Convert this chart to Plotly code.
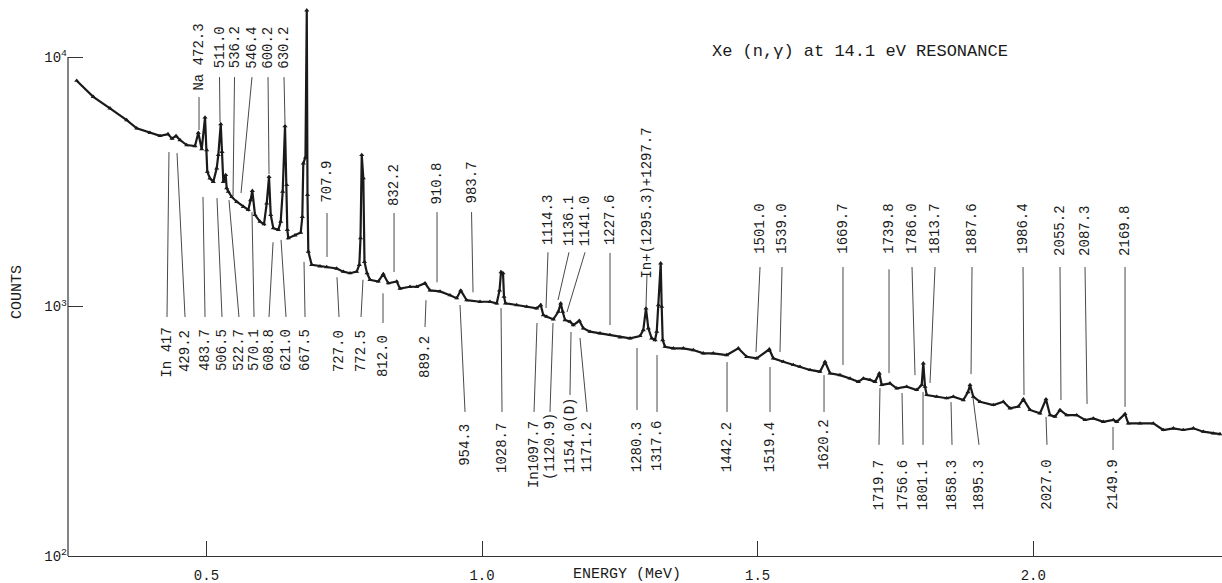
import math
import plotly.graph_objects as go

# ---------------- spectrum ----------------
energy_mev = [
    0.2646, 0.2947, 0.3250, 0.3553, 0.3735, 0.3976, 0.4157, 0.4302, 0.4375, 0.4448,
    0.4520, 0.4642, 0.4792, 0.4852, 0.4914, 0.4974, 0.5005, 0.5015, 0.5064, 0.5124,
    0.5186, 0.5215, 0.5259, 0.5282, 0.5306, 0.5349, 0.5367, 0.5396, 0.5458, 0.5549,
    0.5669, 0.5759, 0.5800, 0.5832, 0.5881, 0.5971, 0.6044, 0.6093, 0.6135, 0.6166,
    0.6213, 0.6304, 0.6347, 0.6383, 0.6425, 0.6456, 0.6467, 0.6485, 0.6606, 0.6710,
    0.6739, 0.6757, 0.6796, 0.6820, 0.6833, 0.6848, 0.6909, 0.7060, 0.7182, 0.7363,
    0.7483, 0.7604, 0.7726, 0.7773, 0.7795, 0.7817, 0.7846, 0.7867, 0.7913, 0.7967,
    0.8118, 0.8208, 0.8299, 0.8452, 0.8511, 0.8693, 0.8814, 0.8965, 0.9056, 0.9237,
    0.9418, 0.9540, 0.9613, 0.9721, 0.9963, 1.0144, 1.0266, 1.0317, 1.0344, 1.0380,
    1.0398, 1.0425, 1.0629, 1.0810, 1.0991, 1.1064, 1.1111, 1.1173, 1.1293, 1.1383,
    1.1427, 1.1463, 1.1505, 1.1595, 1.1655, 1.1764, 1.1837, 1.1958, 1.2140, 1.2321,
    1.2503, 1.2684, 1.2866, 1.2925, 1.2974, 1.3016, 1.3078, 1.3138, 1.3169, 1.3198,
    1.3241, 1.3259, 1.3277, 1.3319, 1.3470, 1.3651, 1.3833, 1.4014, 1.4195, 1.4439,
    1.4649, 1.4801, 1.4983, 1.5211, 1.5284, 1.5465, 1.5647, 1.5768, 1.5950, 1.6131,
    1.6222, 1.6313, 1.6494, 1.6675, 1.6826, 1.6917, 1.7038, 1.7129, 1.7207, 1.7250,
    1.7401, 1.7523, 1.7704, 1.7885, 1.7976, 1.8005, 1.8036, 1.8067, 1.8248, 1.8430,
    1.8550, 1.8731, 1.8816, 1.8853, 1.8912, 1.9034, 1.9275, 1.9457, 1.9578, 1.9729,
    1.9820, 1.9941, 2.0122, 2.0231, 2.0304, 2.0394, 2.0485, 2.0607, 2.0788, 2.0939,
    2.1089, 2.1271, 2.1452, 2.1514, 2.1664, 2.1724, 2.1936, 2.2178, 2.2359, 2.2541,
    2.2722, 2.2904, 2.3085, 2.3266, 2.3388,
]
counts = [
    8040, 6930, 6230, 5590, 5180, 4970, 4830, 4910, 4710, 4830,
    4650, 4440, 4400, 4970, 4270, 5730, 4240, 3470, 3260, 3160,
    3580, 4050, 5390, 4170, 3160, 3370, 2980, 2890, 2750, 2630,
    2510, 2440, 2670, 2910, 2330, 2190, 2140, 2590, 3310, 2330,
    2060, 2030, 2190, 2890, 5290, 3070, 2030, 1880, 1930, 1980,
    2290, 3750, 3960, 15400, 2800, 1660, 1470, 1450, 1440, 1420,
    1380, 1360, 1380, 1470, 1880, 4050, 3270, 1510, 1360, 1280,
    1260, 1350, 1240, 1260, 1180, 1200, 1200, 1240, 1160, 1150,
    1110, 1080, 1160, 1060, 1045, 1045, 1030, 1160, 1375, 1360,
    1095, 1030, 1014, 998, 983, 1014, 924, 910, 889, 953,
    1030, 953, 883, 869, 843, 877, 818, 793, 781, 769,
    753, 746, 762, 805, 983, 818, 746, 734, 793, 1014,
    1490, 998, 734, 690, 680, 680, 669, 649, 649, 639,
    680, 629, 620, 674, 620, 601, 583, 574, 557, 548,
    601, 540, 531, 515, 499, 515, 508, 499, 540, 485,
    492, 470, 477, 463, 485, 592, 477, 442, 435, 429,
    435, 422, 454, 485, 435, 415, 403, 415, 391, 397,
    425, 385, 373, 425, 367, 362, 385, 367, 367, 351,
    356, 345, 351, 345, 371, 340, 340, 340, 320, 325,
    320, 325, 315, 310, 308,
]

# ---------------- peak labels above the curve ----------------
up_text = ["Na 472.3", "511.0", "536.2", "546.4", "600.2", "630.2", "707.9", "832.2",
           "910.8", "983.7", "1114.3", "1136.1", "1141.0", "1227.6", "In+(1295.3)+1297.7",
           "1501.0", "1539.0", "1669.7", "1739.8", "1786.0", "1813.7", "1887.6", "1986.4",
           "2055.2", "2087.3", "2169.8"]
up_x = [0.4865, 0.5237, 0.5509, 0.5826, 0.6117, 0.6407, 0.7187, 0.8403,
        0.9183, 0.9809, 1.1196, 1.1577, 1.1868, 1.2321, 1.2992,
        1.5043, 1.5442, 1.6548, 1.7383, 1.7800, 1.8218, 1.8889, 1.9814,
        2.0485, 2.0939, 2.1665]
up_y = [9950, 10900, 10900, 10900, 10900, 10900, 3170, 3070,
        3110, 3130, 2220, 2200, 2200, 2220, 2610,
        2050, 2050, 2050, 2050, 2050, 2050, 2050, 2050,
        2010, 2010, 2010]
up_line_top = [6910, 8310, 8310, 8310, 8310, 8310, 2370, 2370,
               2390, 2390, 1650, 1650, 1650, 1640, 1340,
               1440, 1440, 1440, 1410, 1440, 1440, 1440, 1440,
               1440, 1440, 1440]
up_peak_x = [0.4865, 0.5246, 0.5482, 0.5627, 0.6135, 0.6425, 0.7187, 0.8403,
             0.9183, 0.9836, 1.1160, 1.1378, 1.1541, 1.2321, 1.2974,
             1.4970, 1.5405, 1.6548, 1.7383, 1.7855, 1.8127, 1.8871, 1.9832,
             2.0503, 2.0976, 2.1665]
up_peak_y = [5100, 5490, 2770, 2850, 3400, 5390, 1580, 1375,
             1250, 1140, 986, 1062, 951, 843, 995,
             657, 657, 583, 541, 531, 494, 536, 442,
             422, 407, 396]

# ---------------- peak labels below the curve ----------------
down_text = ["In 417", "429.2", "483.7", "506.5", "522.7", "570.1", "608.8", "621.0",
             "667.5", "727.0", "772.5", "812.0", "889.2", "954.3", "1028.7", "In1097.7",
             "(1120.9)", "1154.0(D)", "1171.2", "1280.3", "1317.6", "1442.2", "1519.4",
             "1620.2", "1719.7", "1756.6", "1801.1", "1858.3", "1895.3", "2027.0", "2149.9"]
down_x = [0.4284, 0.4611, 0.4974, 0.5282, 0.5590, 0.5863, 0.6135, 0.6443,
          0.6788, 0.7405, 0.7804, 0.8203, 0.8965, 0.9691, 1.0362, 1.0943,
          1.1232, 1.1595, 1.1904, 1.2811, 1.3174, 1.4444, 1.5224,
          1.6204, 1.7201, 1.7637, 1.8000, 1.8526, 1.9016, 2.0249, 2.1447]
down_y = [654, 663, 669, 669, 669, 669, 669, 669,
          669, 663, 663, 633, 628, 279, 271, 254,
          276, 305, 273, 273, 276, 273, 273,
          279, 192, 192, 192, 192, 192, 193, 193]
down_peak_x = [0.4320, 0.4466, 0.4937, 0.5191, 0.5409, 0.5826, 0.6208, 0.6353,
               0.6770, 0.7368, 0.7840, 0.8203, 0.8983, 0.9600, 1.0344, 1.0997,
               1.1287, 1.1614, 1.1777, 1.2811, 1.3174, 1.4444, 1.5224,
               1.6204, 1.7219, 1.7619, 1.8000, 1.8508, 1.8907, 2.0231, 2.1447]
down_peak_y = [4160, 4120, 2750, 2720, 2670, 2390, 1810, 1850,
               1510, 1310, 1280, 1130, 1060, 1014, 986, 859,
               859, 790, 748, 682, 639, 599, 572,
               531, 471, 450, 454, 414, 430, 361, 329]
down_line_bot = [908, 908, 908, 908, 908, 908, 908, 908,
                 908, 908, 908, 859, 828, 378, 378, 378,
                 378, 442, 378, 385, 378, 378, 378,
                 378, 279, 279, 279, 279, 279, 279, 266]

# ---------------- axes ----------------
x_ticks = [0.5, 1.0, 1.5, 2.0]
x_tick_text = ["0.5", "1.0", "1.5", "2.0"]
y_ticks = [100, 1000, 10000]
y_tick_text = ["10<sup>2</sup>", "10<sup>3</sup>", "10<sup>4</sup>"]
x_range = [0.2488, 2.3424]
y_range_counts = [100, 16930]

title_text = "Xe (n,γ) at 14.1 eV RESONANCE"
x_title = "ENERGY (MeV)"
y_title = "COUNTS"

FONT = "Liberation Mono, DejaVu Sans Mono, monospace"
INK = "#1a1a1a"

fig = go.Figure()

# leader lines
lx, ly = [], []
for i in range(len(up_text)):
    lx += [up_x[i], up_peak_x[i], None]
    ly += [up_line_top[i], up_peak_y[i], None]
for i in range(len(down_text)):
    lx += [down_peak_x[i], down_x[i], None]
    ly += [down_peak_y[i], down_line_bot[i], None]
fig.add_trace(go.Scatter(x=lx, y=ly, mode="lines",
                         line=dict(color="#333333", width=0.9),
                         hoverinfo="skip", showlegend=False))

# spectrum
fig.add_trace(go.Scatter(x=energy_mev, y=counts, mode="lines+markers",
                         line=dict(color=INK, width=2.2),
                         marker=dict(color=INK, size=4.5, symbol="triangle-up"),
                         showlegend=False))

annotations = []
for t, x, y in zip(up_text, up_x, up_y):
    annotations.append(dict(x=x, y=math.log10(y), xref="x", yref="y", text=t,
                            textangle=-90, showarrow=False, xanchor="center",
                            yanchor="middle", font=dict(family=FONT, size=14, color=INK)))
for t, x, y in zip(down_text, down_x, down_y):
    annotations.append(dict(x=x, y=math.log10(y), xref="x", yref="y", text=t,
                            textangle=-90, showarrow=False, xanchor="center",
                            yanchor="middle", font=dict(family=FONT, size=14, color=INK)))
annotations.append(dict(x=1.6857, y=0.9065, xref="x", yref="paper", text=title_text,
                        showarrow=False, xanchor="center", yanchor="middle",
                        font=dict(family=FONT, size=17, color=INK)))
annotations.append(dict(x=1.263, y=-0.034, xref="x", yref="paper", text=x_title,
                        showarrow=False, xanchor="center", yanchor="middle",
                        font=dict(family=FONT, size=15, color=INK)))
annotations.append(dict(x=-0.0433, y=0.475, xref="paper", yref="paper", text=y_title,
                        textangle=-90, showarrow=False, xanchor="center", yanchor="middle",
                        font=dict(family=FONT, size=15, color=INK)))

fig.update_layout(
    width=1222, height=583,
    margin=dict(l=68, r=0, t=0, b=27),
    paper_bgcolor="white", plot_bgcolor="white",
    showlegend=False,
    font=dict(family=FONT, size=14, color=INK),
    annotations=annotations,
    shapes=[dict(type="line", xref="paper", x0=0, x1=0, yref="y",
                 y0=y_ticks[0], y1=y_ticks[-1],
                 line=dict(color="#333333", width=1.2))],
)
fig.update_xaxes(range=x_range, tickvals=x_ticks, ticktext=x_tick_text,
                 ticks="inside", ticklen=15, tickwidth=1.2, tickcolor="#333333",
                 showline=True, linecolor="#333333", linewidth=1.2,
                 showgrid=False, zeroline=False, ticklabelstandoff=6,
                 tickfont=dict(family=FONT, size=14, color=INK))
fig.update_yaxes(type="log", range=[math.log10(v) for v in y_range_counts],
                 tickvals=y_ticks, ticktext=y_tick_text,
                 ticks="inside", ticklen=15, tickwidth=1.2, tickcolor="#333333",
                 showline=False, showgrid=False, zeroline=False,
                 tickfont=dict(family=FONT, size=14, color=INK))

fig.write_html("out.html",
               config={"displayModeBar": False},
               post_script="document.body.style.margin='0';document.body.style.overflow='hidden';")
